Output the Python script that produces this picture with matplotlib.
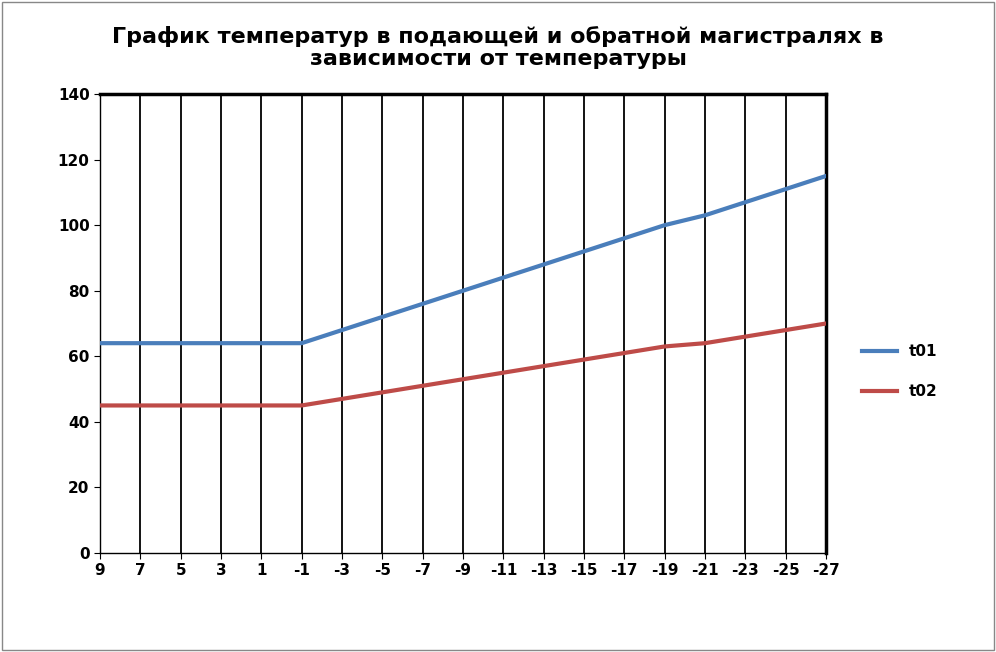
import matplotlib.pyplot as plt
from matplotlib.patches import Rectangle

outdoor = [9, 7, 5, 3, 1, -1, -3, -5, -7, -9, -11, -13, -15, -17, -19, -21, -23, -25, -27]
t01 = [64, 64, 64, 64, 64, 64, 68, 72, 76, 80, 84, 88, 92, 96, 100, 103, 107, 111, 115]
t02 = [45, 45, 45, 45, 45, 45, 47, 49, 51, 53, 55, 57, 59, 61, 63, 64, 66, 68, 70]

fig = plt.figure(figsize=(9.96, 6.52), dpi=100)
fig.patches.append(Rectangle((0.002, 0.003), 0.996, 0.994, transform=fig.transFigure,
                             fill=False, edgecolor='#888888', lw=1))
ax = fig.add_axes([100/996, 1-553/652, 726/996, 459/652])

x = list(range(len(outdoor)))
for xi in x:
    ax.axvline(xi, color='black', lw=1.3, zorder=1)
ax.plot(x, t01, color='#4a7ebb', lw=3, label='t01', zorder=3)
ax.plot(x, t02, color='#be4b48', lw=3, label='t02', zorder=3)

ax.set_xlim(0, len(x) - 1)
ax.set_ylim(0, 140)
ax.set_yticks(range(0, 141, 20))
ax.set_xticks(x)
ax.set_xticklabels([str(v) for v in outdoor])
for lab in ax.get_xticklabels() + ax.get_yticklabels():
    lab.set_fontweight('bold')
    lab.set_fontsize(11)
ax.tick_params(length=4, direction='out')
for s in ax.spines.values():
    s.set_linewidth(2.5)
ax.spines['left'].set_linewidth(1)
ax.spines['bottom'].set_linewidth(1)

fig.text(0.5, 0.96, 'График температур в подающей и обратной магистралях в\nзависимости от температуры',
         ha='center', va='top', fontsize=16, fontweight='bold', linespacing=1.15)

ax.legend(loc='center left', bbox_to_anchor=(1.03, 0.395), frameon=False,
          prop={'weight': 'bold', 'size': 11}, handlelength=2.3, labelspacing=1.65)

fig.savefig('out.png', dpi=100)
